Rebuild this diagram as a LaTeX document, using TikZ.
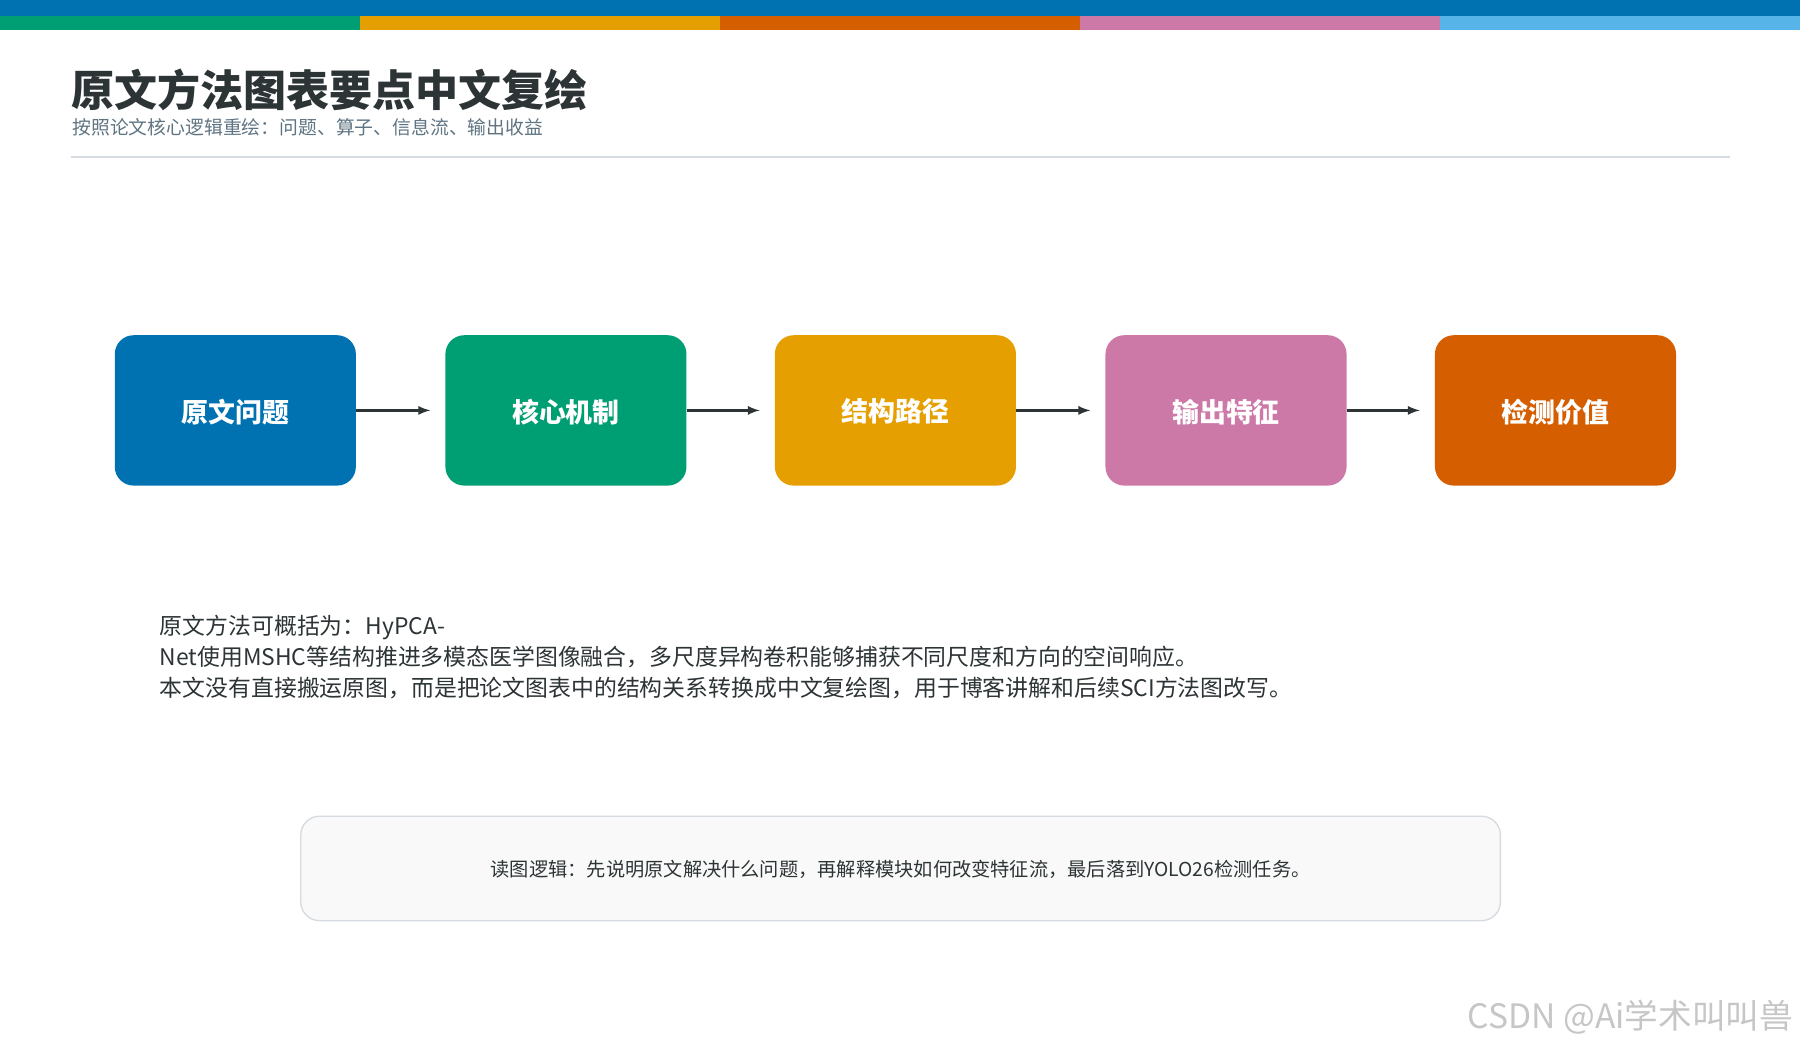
\documentclass[tikz,border=0pt]{standalone}
\usepackage{fontspec}
\setmainfont{Noto Sans CJK SC}
\usetikzlibrary{positioning}
\definecolor{cblue}{HTML}{0072B2}
\definecolor{cgreen}{HTML}{009E73}
\definecolor{corange}{HTML}{E69F00}
\definecolor{cred}{HTML}{D55E00}
\definecolor{cpink}{HTML}{CC79A7}
\definecolor{csky}{HTML}{56B4E9}
\definecolor{ink}{HTML}{2D3436}
\definecolor{subink}{HTML}{5F7482}
\definecolor{rulegray}{HTML}{D5DBE0}
\tikzset{
	stepbox/.style = {rounded corners=14, minimum width=210*0.03cm, minimum height=131*0.03cm,
		inner sep=0pt, text=white, text depth=-9pt, font=\bfseries\fontsize{20}{22}\selectfont},
	flow/.style = {draw=ink, line width=2pt, -latex, shorten >=13*0.03cm}
}
\begin{document}
\begin{tikzpicture}[x=0.03cm, y=-0.03cm]
	\useasboundingbox (0,0) rectangle (1568,912);
	\fill[white] (0,0) rectangle (1568,912);
	
	% top band
	\fill[cblue] (0,0) rectangle (1568,14);
	\foreach \c [count=\i from 0] in {cgreen,corange,cred,cpink,csky}
		\fill[\c] (313.6*\i,14) rectangle (313.6*\i+313.6,26);
	
	% title
	\node[anchor=west, text=ink, font=\bfseries\fontsize{32}{36}\selectfont] (title) at (58,78) {原文方法图表要点中文复绘};
	\node[anchor=west, text=subink, font=\fontsize{14}{16}\selectfont] (subtitle) at (59,111) {按照论文核心逻辑重绘：问题、算子、信息流、输出收益};
	\draw[rulegray, line width=1.2pt] (62,137) -- (1507,137);
	
	% flow
	\node[stepbox, fill=cblue] (problem) at (205,357.5) {原文问题};
	\node[stepbox, fill=cgreen] (core) at (493,357.5) {核心机制};
	\node[stepbox, fill=corange] (path) at (780,357.5) {结构路径};
	\node[stepbox, fill=cpink] (feature) at (1068,357.5) {输出特征};
	\node[stepbox, fill=cred] (value) at (1355,357.5) {检测价值};
	\draw[flow] (problem) -- (core);
	\draw[flow] (core) -- (path);
	\draw[flow] (path) -- (feature);
	\draw[flow] (feature) -- (value);
	
	% description
	\node[anchor=north west, align=left, text=ink, inner sep=0pt, font=\fontsize{17}{23}\selectfont] (desc) at (139,536) {原文方法可概括为：HyPCA-\\Net使用MSHC等结构推进多模态医学图像融合，多尺度异构卷积能够捕获不同尺度和方向的空间响应。\\本文没有直接搬运原图，而是把论文图表中的结构关系转换成中文复绘图，用于博客讲解和后续SCI方法图改写。};
	
	% note
	\node[draw=rulegray, fill=gray!5, line width=1pt, rounded corners=14, minimum width=1045*0.03cm, minimum height=91*0.03cm, text=ink, text depth=-4pt, font=\fontsize{14.3}{16}\selectfont] (note) at (784.5,756.5) {读图逻辑：先说明原文解决什么问题，再解释模块如何改变特征流，最后落到YOLO26检测任务。};
	
	\node[anchor=east, text=gray!45, font=\fontsize{25}{28}\selectfont] (mark) at (1566,886) {CSDN @Ai学术叫叫兽};
\end{tikzpicture}
\end{document}
